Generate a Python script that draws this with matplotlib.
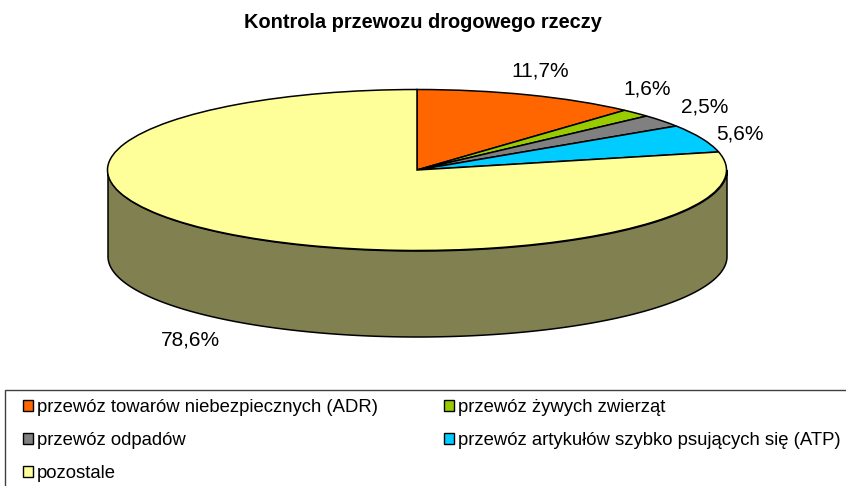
import numpy as np
import matplotlib
matplotlib.use('Agg')
import matplotlib.pyplot as plt
from matplotlib.patches import Patch, Rectangle

# Shares
categories = ['przewóz towarów niebezpiecznych (ADR)', 'przewóz żywych zwierząt',
              'przewóz odpadów', 'przewóz artykułów szybko psujących się (ATP)', 'pozostale']
shares = [11.7, 1.6, 2.5, 5.6, 78.6]
colors = ['#FF6600', '#99CC00', '#808080', '#00CCFF', '#FFFF99']
title = 'Kontrola przewozu drogowego rzeczy'

W, H = 846, 486
CX, CY = 417, 170      # ellipse centre, pixels
RX, RY = 309.5, 80.5   # ellipse radii, pixels
DEPTH = 86 / RY        # wall height in axes units

plt.rcParams['font.family'] = ['Liberation Sans', 'DejaVu Sans']

fig = plt.figure(figsize=(W / 100, H / 100), dpi=100)
ax = fig.add_axes([0, 0, 1, 1])

# Top of the pie, squashed to an ellipse by the axes scale
ax.pie(shares, colors=colors, startangle=90, counterclock=False,
       wedgeprops={'edgecolor': 'black', 'linewidth': 1.1, 'zorder': 3})

# Side wall
x = np.cos(np.linspace(np.pi, 2 * np.pi, 300))
y = -np.sqrt(np.clip(1 - x ** 2, 0, None))
ax.fill_between(x, y, y - DEPTH, facecolor='#808050', edgecolor='black', linewidth=1.1, zorder=2)

ax.set_aspect('auto')
ax.set_xlim(-CX / RX, (W - CX) / RX)
ax.set_ylim((CY - H) / RY, CY / RY)
ax.axis('off')


def px(x, y):
    return x / W, 1 - y / H


# Value labels
label_pos = [(540, 71), (647, 89), (705, 107), (740, 134), (190, 340)]
for value, (lx, ly) in zip(shares, label_pos):
    fx, fy = px(lx, ly)
    fig.text(fx, fy, f'{value:.1f}%'.replace('.', ','), ha='center', va='center',
             fontsize=15, color='black')

fx, fy = px(423, 22)
fig.text(fx, fy, title, ha='center', va='center', fontsize=14.4, fontweight='bold')

# Legend frame runs off the right and bottom of the image
fig.add_artist(Rectangle(px(5, 500), 860 / W, 110 / H, transform=fig.transFigure,
                         facecolor='white', edgecolor='#404040', linewidth=1.0, zorder=1))

order = [0, 2, 4, 1, 3]
handles = [Patch(facecolor=colors[i], edgecolor='black', linewidth=1.0) for i in order]
labels = [categories[i] for i in order]
leg = fig.legend(handles, labels, ncol=2, loc='upper left', bbox_to_anchor=px(6.4, 382),
                 frameon=False, fontsize=13.3, handlelength=0.54, handleheight=0.54,
                 handletextpad=0.2, labelspacing=0.87, columnspacing=3.6,
                 borderpad=0.9, borderaxespad=0)
leg.set_zorder(5)

fig.savefig('out.png', dpi=100)
